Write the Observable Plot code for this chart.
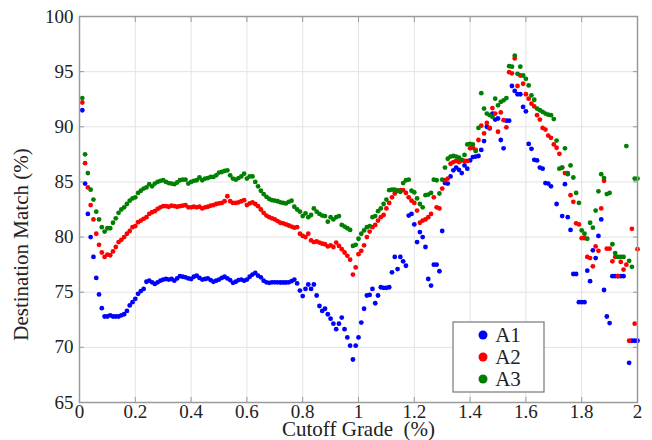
<!DOCTYPE html>
<html>
<head>
<meta charset="utf-8">
<script src="https://cdn.jsdelivr.net/npm/d3@7"></script>
<script src="https://cdn.jsdelivr.net/npm/@observablehq/plot@0.6"></script>
<style>
  html, body { margin: 0; padding: 0; background: #fff; }
  #chart svg { display: block; }
</style>
</head>
<body>
<div id="chart"></div>
<script>
// Destination match (%) of three cases against the cutoff grade (%), sampled every 0.01
const seriesNames = ["A1", "A2", "A3"];
const seriesColors = ["#0000ff", "#ff0000", "#008000"];
const cutoff = d3.range(201).map(i => i / 100);

const a1 = [
  null, 91.5, 84.85, 82.1, 80.0, 78.2, 76.3, 74.8, 73.55, 72.8,
  72.8, 72.9, 72.8, 72.8, 72.8, 72.9, 73.0, 73.3, 73.8, 74.1,
  74.4, 74.85, 75.1, 75.3, 75.95, 76.05, 75.9, 75.75, 75.9, 76.05,
  76.15, 76.2, 76.15, 76.2, 76.05, 76.25, 76.45, 76.4, 76.35, 76.25,
  76.2, 76.4, 76.5, 76.3, 76.15, 76.2, 76.25, 76.1, 75.95, 76.05,
  76.15, 76.3, 76.4, 76.25, 76.1, 75.85, 75.95, 76.1, 76.15, 76.05,
  76.15, 76.4, 76.6, 76.75, 76.5, 76.35, 76.05, 75.9, 75.85, 75.9,
  75.9, 75.9, 75.88, 75.88, 75.88, 75.9, 76.0, 76.15, 75.8, 75.15,
  74.65, 75.3, 75.7, 75.3, 75.7, 74.7, 73.75, 73.3, 73.5, 73.0,
  72.6, 72.15, 71.65, 72.15, 72.7, 71.65, 70.9, 70.15, 68.9, 70.15,
  70.9, 72.25, 73.5, 74.7, 74.75, 75.3, 74.0, 74.7, 75.45, 75.4,
  75.4, 75.45, 76.8, 78.2, 77.1, 78.2, 77.8, 77.4, 81.95, 82.1,
  81.15, 79.55, 80.45, 80.0, 79.1, 76.2, 75.6, 77.5, 77.5, 76.9,
  80.55, 84.9, 84.85, 85.5, 86.05, 86.3, 86.1, 85.8, 86.5, 86.2,
  86.95, 87.25, 87.3, 87.35, 87.9, 88.7, 90.0, 89.85, 91.2, 90.65,
  90.75, 88.8, 88.05, 90.55, 90.55, 93.7, 93.25, 92.95, 92.95, 91.8,
  91.4, 88.45, 88.0, 87.0, 86.95, 86.3, 86.2, 84.9, 84.85, 84.6,
  null, 83.0, null, 81.9, 84.8, 81.8, 80.65, 76.65, 76.65, 74.1,
  74.1, 74.1, 76.95, 76.0, 78.8, 78.1, 80.1, 81.6, 75.2, 72.8,
  72.2, 76.45, 76.45, 76.45, 76.45, 76.45, null, 68.6, 70.6, 70.6,
  70.6
];

const a2 = [
  null, 92.2, 86.7, 84.5, 82.9, 81.6, 80.3, 79.3, 78.6, 78.2,
  78.4, 78.35, 78.7, 79.1, 79.55, 79.75, 80.0, 80.3, 80.55, 80.9,
  81.0, 81.35, 81.5, 81.65, 81.8, 82.1, 82.25, 82.35, 82.55, 82.7,
  82.8, 82.8, 82.75, 82.85, 82.8, 82.75, 82.8, 82.85, 82.9, 82.7,
  82.7, 82.75, 82.7, 82.75, 82.6, 82.7, 82.75, 82.85, 82.9, 83.0,
  83.05, 83.1, 83.25, 83.7, 83.25, 83.1, 83.1, 83.15, 83.25, 83.35,
  82.9, 83.05, 83.15, 83.0, 82.8, 82.5, 82.2, 81.95, 81.8, 81.7,
  81.6, 81.45, 81.3, 81.25, 81.15, 81.05, 80.95, 80.85, 80.9, 80.3,
  80.1, 80.0, 80.3, 79.7, 79.55, 79.6, 79.5, 79.4, 79.35, 79.15,
  79.25, 79.1, 79.5, 79.2, 78.9, 78.6, 78.3, 77.95, 76.6, 77.25,
  78.45, 78.75, 79.25, 80.0, 80.5, 80.9, 81.1, 81.5, 81.8, 82.0,
  82.6, 83.1, 83.6, 83.95, 84.2, 84.25, 84.25, 84.0, 83.6, 83.3,
  83.1, 82.4, 81.3, 81.5, 81.6, 81.8, 82.1, 83.6, 82.7, 82.6,
  84.4, 85.15, 85.3, 86.65, 86.8, 86.9, 86.8, 86.95, 86.9, 86.9,
  88.05, 88.1, 87.9, 88.8, 90.1, 89.4, 90.35, 89.9, 91.7, 91.2,
  89.55, 91.3, 90.6, 89.95, 94.95, 94.85, 96.2, 93.7, 94.65, 93.9,
  92.95, 92.55, 92.1, 91.85, 91.05, 90.65, 89.9, 89.75, 89.2, 89.0,
  88.4, 88.1, 87.55, 86.3, 85.8, 85.8, 83.8, 83.2, 81.25, 81.15,
  79.9, 79.9, 78.2, 78.1, 77.35, 79.15, 78.75, 82.6, 85.1, 78.95,
  78.95, 77.8, 78.2, 76.45, 77.75, 77.05, 77.5, 70.6, 80.75, 72.15,
  78.9
];

const a3 = [
  null, 92.6, 87.5, 85.8, 84.3, 83.4, 82.3, 81.6, 80.9, 80.5,
  80.8, 80.8, 81.3, 81.7, 82.2, 82.5, 82.7, 83.0, 83.3, 83.5,
  83.6, 84.0, 84.2, 84.4, 84.5, 84.8, 84.6, 84.85, 85.0, 85.1,
  85.15, 85.0, 84.9, 84.85, 84.8, 84.95, 85.15, 85.2, 85.2, 84.85,
  85.0, 85.1, 85.15, 85.4, 85.15, 85.3, 85.35, 85.45, 85.45, 85.6,
  85.85, 85.9, 86.0, 86.05, 85.6, 85.3, 85.2, 85.35, 85.5, 85.75,
  85.3, 85.5, 85.5, 85.0, 84.6, 84.2, 83.9, 83.65, 83.45, 83.35,
  83.3, 83.25, 83.15, 83.1, 83.05, 83.2, 83.3, 82.75, 82.5, 82.3,
  81.9, 82.15, 81.8, 82.0, 82.6, 82.3, 82.1, 81.95, 81.9, 81.4,
  81.8, 81.6, 81.8, 81.9, 81.1, 80.95, 80.8, 80.65, 79.2, 79.3,
  79.85, 80.3, 80.6, 80.9, 81.0, 81.8, 81.9, 82.35, 82.6, 83.0,
  83.4, 84.25, 84.3, 84.3, 84.2, 84.1, 84.9, 85.15, 85.2, 84.2,
  84.05, 83.5, 83.0, 82.7, 83.8, 83.85, 84.0, 85.2, 85.15, 83.95,
  85.2, 86.3, 87.1, 87.3, 87.35, 87.3, 87.2, 87.0, 87.45, 88.4,
  88.45, 88.4, 87.8, 89.9, 93.05, 91.65, 91.2, 91.05, 90.9, 92.55,
  91.95, 92.25, 92.4, 92.6, 95.5, 95.45, 96.45, 94.8, 95.45, 94.65,
  94.35, 93.75, 92.85, 92.45, 91.65, 91.5, 91.35, 91.2, 91.1, 91.05,
  90.7, 88.75, 86.2, 86.3, 88.05, 85.7, 86.5, 85.4, 84.0, 83.1,
  80.6, 80.3, 79.85, 81.3, 80.85, 82.4, 84.15, 85.7, 85.35, 83.9,
  84.0, 79.35, 78.55, 78.2, 78.2, 78.2, 88.25, 77.85, 77.3, 85.3,
  85.3
];

const xTicks = [0, 0.2, 0.4, 0.6, 0.8, 1, 1.2, 1.4, 1.6, 1.8, 2];
const yTicks = [65, 70, 75, 80, 85, 90, 95, 100];
const xTitle = "Cutoff Grade\u00a0 (%)";
const yTitle = "Destination Match (%)";

const rows = [];
[a1, a2, a3].forEach((vals, k) => {
  vals.forEach((v, i) => {
    if (v != null) rows.push({cutoff: cutoff[i], match: v, series: seriesNames[k]});
  });
});

const serif = "'Liberation Serif', 'Times New Roman', serif";
const spine = "#9a9a9a";

const chart = Plot.plot({
  width: 652,
  height: 440,
  marginLeft: 79,
  marginRight: 15,
  marginTop: 16,
  marginBottom: 38,
  style: {fontFamily: serif, fontSize: "19px", background: "#fff", color: "#222"},
  x: {domain: [0, 2], label: null},
  y: {domain: [65, 100], label: null},
  color: {domain: seriesNames, range: seriesColors},
  marks: [
    Plot.gridX(xTicks, {stroke: "#e3e3e3", strokeOpacity: 1}),
    Plot.gridY(yTicks, {stroke: "#e3e3e3", strokeOpacity: 1}),
    Plot.dot(rows, {x: "cutoff", y: "match", fill: "series", r: 2.4}),
    Plot.frame({stroke: spine, strokeWidth: 1.5}),
    // small inward tick marks on all four sides of the frame
    Plot.axisX(xTicks, {anchor: "bottom", tickSize: 5, dy: -5, tickFormat: () => "", stroke: spine, label: null}),
    Plot.axisX(xTicks, {anchor: "top", tickSize: 5, dy: 5, tickFormat: () => "", stroke: spine, label: null}),
    Plot.axisY(yTicks, {anchor: "left", tickSize: 5, dx: 5, tickFormat: () => "", stroke: spine, label: null}),
    Plot.axisY(yTicks, {anchor: "right", tickSize: 5, dx: -5, tickFormat: () => "", stroke: spine, label: null}),
    // tick labels
    Plot.axisX(xTicks, {anchor: "bottom", tickSize: 0, tickPadding: 2, tickFormat: d => String(d), label: null, fill: "#222", fontSize: 19}),
    Plot.axisY(yTicks, {anchor: "left", tickSize: 0, tickPadding: 6, tickFormat: d => String(d), label: null, fill: "#222", fontSize: 19}),
    // axis titles
    Plot.text([xTitle], {frameAnchor: "bottom", textAnchor: "middle", lineAnchor: "middle", dy: 27, text: d => d, fontSize: 21, fill: "#222"}),
    Plot.text([yTitle], {frameAnchor: "left", textAnchor: "middle", lineAnchor: "middle", rotate: -90, dx: -58, dy: 35, text: d => d, fontSize: 21, fill: "#222"})
  ]
});

document.getElementById("chart").appendChild(chart);

// legend box in the lower right of the plot area
const color = chart.scale("color");
const svg = d3.select(chart.tagName.toLowerCase() === "svg" ? chart : chart.querySelector("svg"));
const legend = svg.append("g").attr("font-family", serif).attr("font-size", 21);
legend.append("rect")
  .attr("x", 453).attr("y", 322).attr("width", 91).attr("height", 70)
  .attr("fill", "#fff").attr("stroke", "#777").attr("stroke-width", 1.2);
seriesNames.forEach((name, k) => {
  const cy = 335 + k * 22;
  legend.append("circle").attr("cx", 483).attr("cy", cy).attr("r", 4.5).attr("fill", color.apply(name));
  legend.append("text").attr("x", 508).attr("y", cy).attr("dy", "0.35em").attr("fill", "#222").text(name);
});
</script>
</body>
</html>
